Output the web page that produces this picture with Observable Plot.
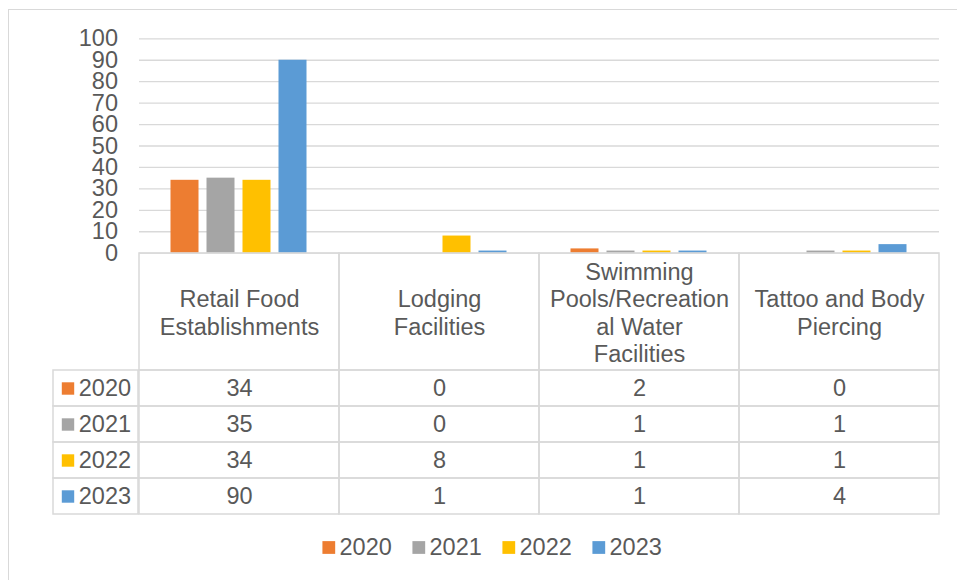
<!DOCTYPE html>
<html><head><meta charset="utf-8">
<script src="https://cdn.jsdelivr.net/npm/d3@7"></script>
<script src="https://cdn.jsdelivr.net/npm/@observablehq/plot@0.6"></script>
<style>
html,body{margin:0;padding:0;background:#fff;}
#chart{position:relative;width:957px;height:580px;overflow:hidden;background:#fff;font-family:"Liberation Sans",Arial,sans-serif;}
#border{position:absolute;left:8px;top:9px;width:1200px;height:1200px;border-left:1.3px solid #d9d9d9;border-top:1.3px solid #d9d9d9;}
</style></head><body><div id="chart"><div id="border"></div></div>
<script>
const categories = ["Retail Food Establishments","Lodging Facilities","Swimming Pools/Recreational Water Facilities","Tattoo and Body Piercing"];
const categoryLabels = ["Retail Food\nEstablishments","Lodging\nFacilities","Swimming\nPools/Recreation\nal Water\nFacilities","Tattoo and Body\nPiercing"];
const years = ["2020","2021","2022","2023"];
const values2020 = [34, 0, 2, 0];
const values2021 = [35, 0, 1, 1];
const values2022 = [34, 8, 1, 1];
const values2023 = [90, 1, 1, 4];
const colors = ["#ED7D31","#A5A5A5","#FFC000","#5B9BD5"];

const series = [values2020, values2021, values2022, values2023];
const rows = [];
years.forEach((yr, i) => categories.forEach((c, j) => rows.push({category: c, year: yr, value: series[i][j]})));

const textColor = "#595959";
const lineColor = "#d9d9d9";
const FS = 23.5;
const style = {background: "transparent", overflow: "visible", fontFamily: "'Liberation Sans', Arial, sans-serif", fontSize: FS + "px", color: textColor};
const colorScale = {domain: years, range: colors};
const chart = document.getElementById("chart");
function place(el, top) {
  el.style.position = "absolute";
  el.style.left = "0px";
  el.style.top = top + "px";
  chart.appendChild(el);
}

// Bars
place(Plot.plot({
  width: 957, height: 256,
  marginTop: 38.3, marginBottom: 3.3, marginLeft: 138.5, marginRight: 18.5,
  style,
  fx: {domain: categories, padding: 0, axis: null, label: null},
  x: {domain: years, paddingInner: 0.219, paddingOuter: 0.849, axis: null},
  y: {domain: [0, 100]},
  color: colorScale,
  marks: [
    Plot.gridY({ticks: 10, stroke: lineColor, strokeOpacity: 1, strokeWidth: 1.3}),
    Plot.axisY({ticks: 10, tickSize: 0, tickPadding: 21.5, fontSize: FS, label: null, fill: textColor}),
    Plot.barY(rows, {fx: "category", x: "year", y: "value", fill: "year"})
  ]
}), 0);

// Table header (category labels)
place(Plot.plot({
  width: 957, height: 123,
  marginTop: 3, marginBottom: 3, marginLeft: 138.5, marginRight: 18.5,
  style,
  x: {type: "band", domain: categories, padding: 0, axis: null},
  marks: [
    Plot.cell(categories, {x: d => d, fill: "none", stroke: lineColor, strokeWidth: 1.5}),
    Plot.text(categories, {x: d => d, text: (d, i) => categoryLabels[i], fontSize: FS, lineHeight: 1.17, fill: textColor})
  ]
}), 250);

// Table values
place(Plot.plot({
  width: 957, height: 150,
  marginTop: 3, marginBottom: 3, marginLeft: 138.5, marginRight: 18.5,
  style,
  x: {type: "band", domain: categories, padding: 0, axis: null},
  y: {type: "band", domain: years, padding: 0, axis: null},
  marks: [
    Plot.cell(rows, {x: "category", y: "year", fill: "none", stroke: lineColor, strokeWidth: 1.5}),
    Plot.text(rows, {x: "category", y: "year", text: d => String(d.value), fontSize: FS, fill: textColor})
  ]
}), 367);

// Table row keys
place(Plot.plot({
  width: 957, height: 150,
  marginTop: 3, marginBottom: 3, marginLeft: 53.3, marginRight: 818.5,
  style,
  x: {type: "band", domain: ["key"], padding: 0, axis: null},
  y: {type: "band", domain: years, padding: 0, axis: null},
  color: colorScale,
  marks: [
    Plot.cell(years, {x: () => "key", y: d => d, fill: "none", stroke: lineColor, strokeWidth: 1.5}),
    Plot.dot(years, {y: d => d, frameAnchor: "left", dx: 14.2, symbol: "square", r: 7, fill: d => d}),
    Plot.text(years, {y: d => d, text: d => d, frameAnchor: "left", dx: 25, textAnchor: "start", fontSize: FS, fill: textColor})
  ]
}), 367);

// Legend
place(Plot.plot({
  width: 957, height: 40,
  marginTop: 0, marginBottom: 0, marginLeft: 322, marginRight: 275,
  style,
  x: {type: "band", domain: years, padding: 0, axis: null},
  color: colorScale,
  marks: [
    Plot.dot(years, {x: d => d, dx: -38.7, symbol: "square", r: 7.2, fill: d => d}),
    Plot.text(years, {x: d => d, text: d => d, dx: -28, textAnchor: "start", fontSize: FS, fill: textColor})
  ]
}), 527);
</script>
</body></html>
